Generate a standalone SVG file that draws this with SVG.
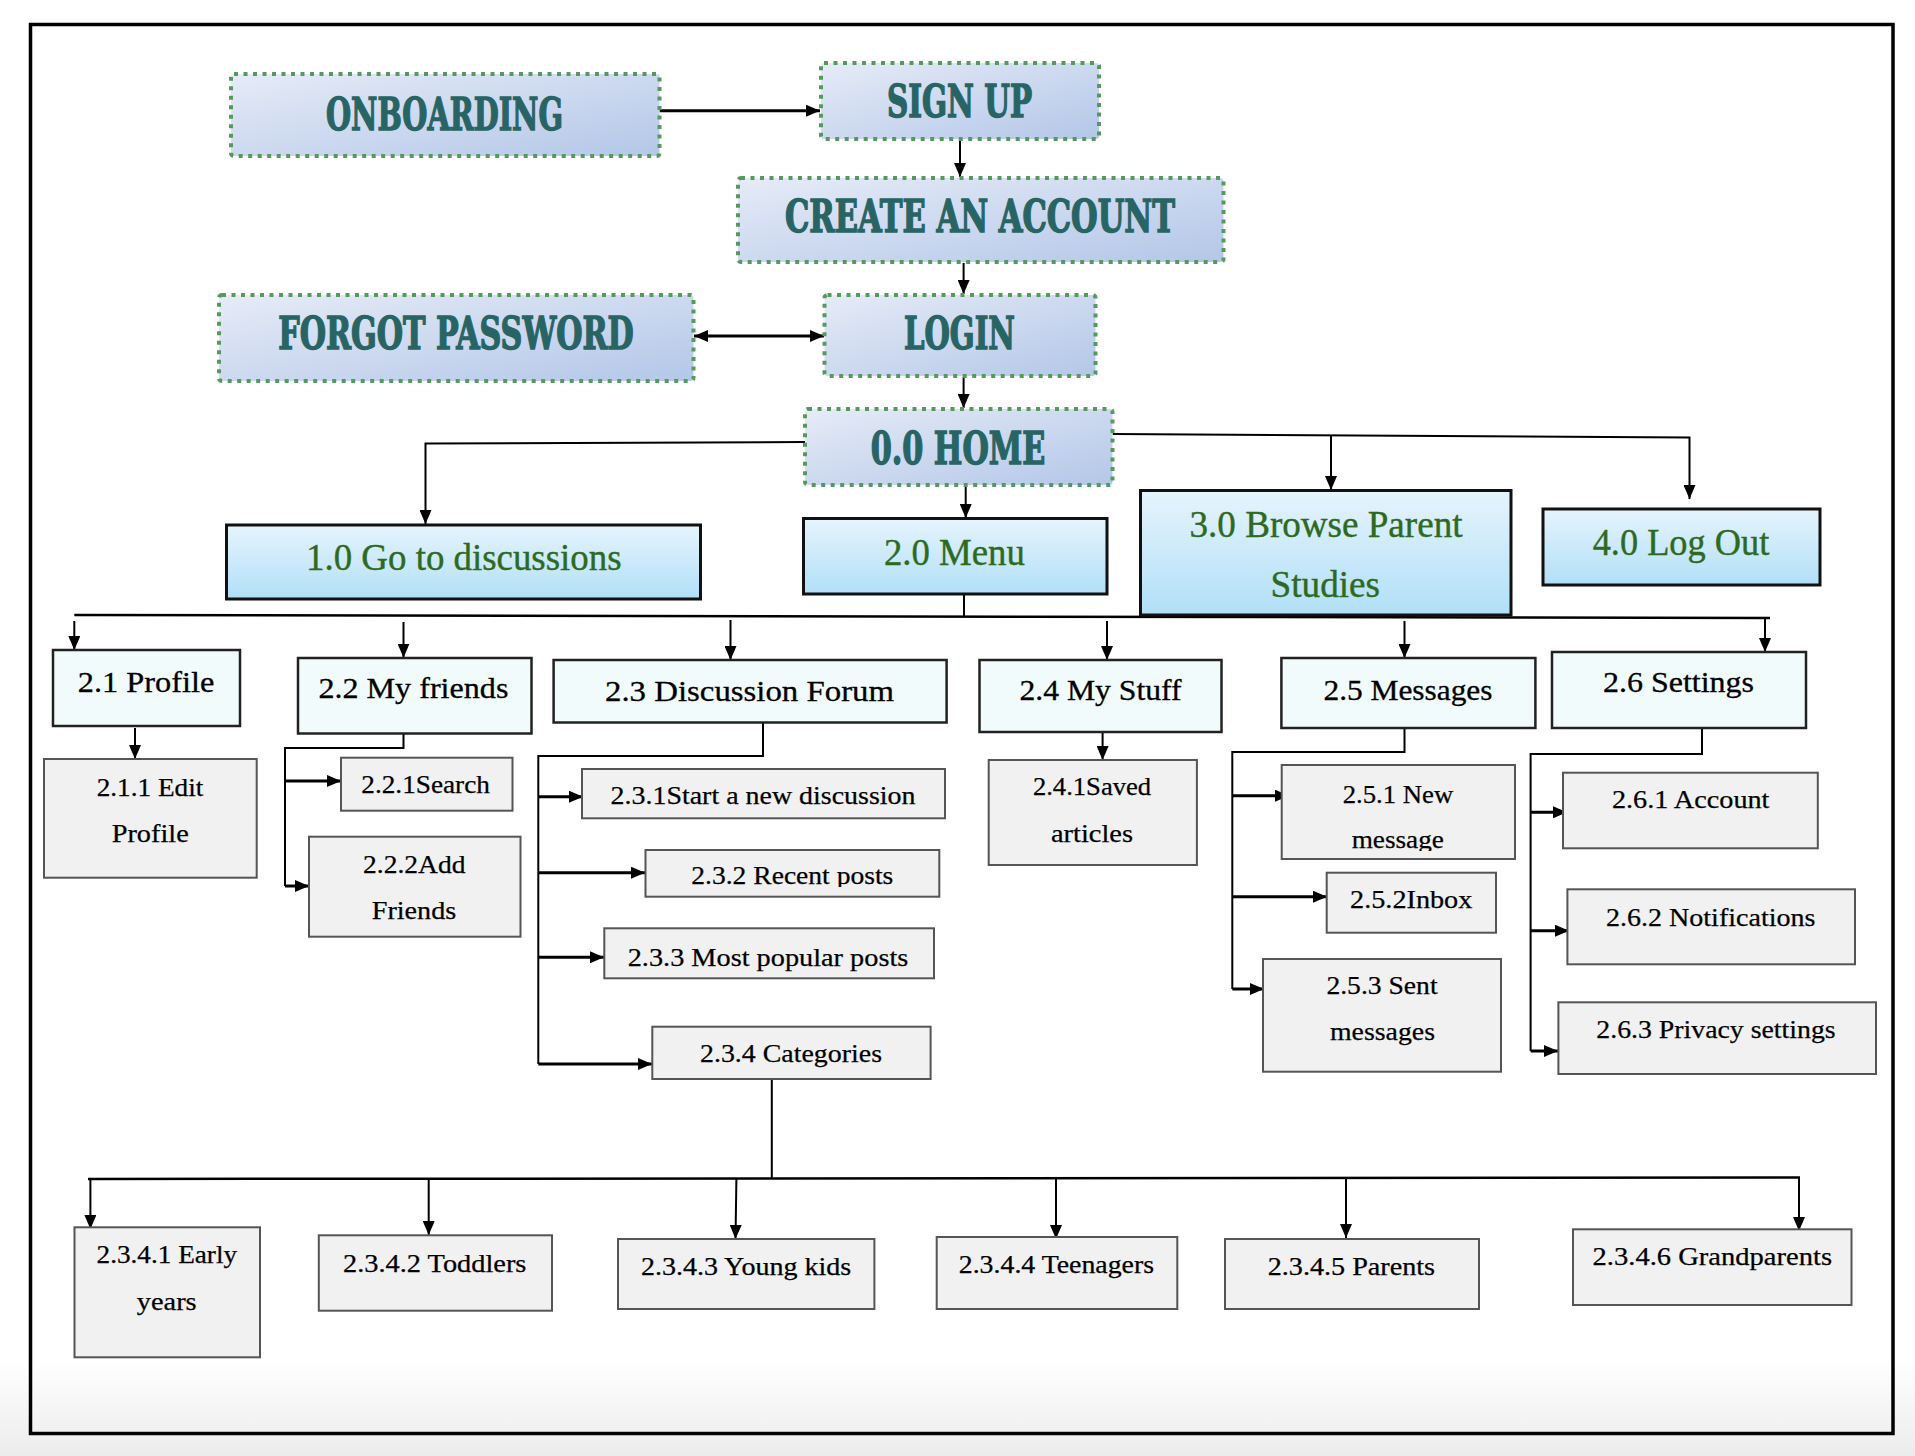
<svg xmlns="http://www.w3.org/2000/svg" width="1915" height="1456" viewBox="0 0 1915 1456">
<defs>
<linearGradient id="gTop" x1="0" y1="0" x2="1" y2="1">
<stop offset="0" stop-color="#e6ebf7"/><stop offset="1" stop-color="#b3c7e8"/>
</linearGradient>
<linearGradient id="gL1" x1="0" y1="0" x2="0" y2="1">
<stop offset="0" stop-color="#e6f4fd"/><stop offset="1" stop-color="#b1dff7"/>
</linearGradient>
<linearGradient id="gBg" x1="0" y1="0" x2="0" y2="1">
<stop offset="0" stop-color="#ffffff"/><stop offset="1" stop-color="#ececec"/>
</linearGradient>
<marker id="ah" markerUnits="userSpaceOnUse" markerWidth="14" markerHeight="12" refX="14" refY="6" orient="auto-start-reverse">
<path d="M0,0 L14,6 L0,12 z" fill="#000"/>
</marker>
<clipPath id="c232"><rect x="646" y="851" width="292" height="36"/></clipPath>
<clipPath id="c251"><rect x="1282" y="766" width="232" height="85"/></clipPath>
</defs>
<style>
.top{fill:url(#gTop);stroke:#55995f;stroke-width:4;stroke-dasharray:4 5.5}
.tt{font-family:'DejaVu Serif Condensed','DejaVu Serif',serif;font-weight:bold;font-size:45px;fill:#286464;stroke:#286464;stroke-width:1.4;text-anchor:middle}
.l1{fill:url(#gL1);stroke:#111;stroke-width:3}
.t1{font-family:'Liberation Serif',serif;font-size:38px;fill:#2d6a1f;stroke:#2d6a1f;stroke-width:0.4;text-anchor:middle}
.l2{fill:#f2fbfb;stroke:#222;stroke-width:2.5}
.t2{font-family:'Liberation Serif',serif;font-size:30px;fill:#000;stroke:#000;stroke-width:0.3;text-anchor:middle}
.l3{fill:#f1f1f1;stroke:#555;stroke-width:2}
.t3{font-family:'Liberation Serif',serif;font-size:26px;fill:#000;stroke:#000;stroke-width:0.25;text-anchor:middle}
.t4{font-family:'Liberation Serif',serif;font-size:25px;fill:#000;stroke:#000;stroke-width:0.25;text-anchor:middle}
#connectors path{fill:none;stroke:#000;stroke-width:2}
#connectors .a{marker-end:url(#ah)}
#connectors .k{stroke-width:3}
#connectors .b{stroke-width:2.5}
</style>
<rect x="0" y="0" width="1915" height="1456" fill="#fff"/>
<rect x="0" y="1360" width="1915" height="96" fill="url(#gBg)"/>
<rect x="30.5" y="24.5" width="1862.5" height="1409" fill="none" stroke="#000" stroke-width="3.5"/>

<g id="connectors">
<path class="a k" d="M659.5,110.7 H820"/>
<path class="a" d="M960,140 V177"/>
<path class="a" d="M963.6,263 V294"/>
<path class="a k" d="M694,336 H824" marker-start="url(#ah)"/>
<path class="a" d="M963.6,377 V408"/>
<path class="a" d="M805,442 L425.5,443.5 V524"/>
<path class="a" d="M965.7,485 V518"/>
<path class="a" d="M1112.6,434 L1689.5,437.5 V499"/>
<path class="a" d="M1331,436 V490"/>
<path d="M964,594 V616.5"/>
<path class="b" d="M74.3,615 L1770,618"/>
<path class="a" d="M74.3,621 V650"/>
<path class="a" d="M403.5,622 V657.7"/>
<path class="a" d="M730.5,620 V660"/>
<path class="a" d="M1107,621 V660"/>
<path class="a" d="M1404.5,621 V658"/>
<path class="a" d="M1765,618 V652"/>
<path class="a" d="M135,728 V759"/>
<path d="M403.5,733 V748 H285 V886"/>
<path class="a k" d="M285,781 H341"/>
<path class="a k" d="M285,886 H309"/>
<path d="M763,722 V756 H538.3 V1064"/>
<path class="a k" d="M538.3,796.7 H583"/>
<path class="a k" d="M538.3,872.7 H645"/>
<path class="a k" d="M538.3,957.3 H604"/>
<path class="a k" d="M538.3,1064 H652"/>
<path class="a" d="M1102.6,732 V760"/>
<path d="M1404.5,728 V752 H1232.3 V989"/>
<path class="a k" d="M1232.3,795.7 H1289"/>
<path class="a k" d="M1232.3,896.7 H1327"/>
<path class="a k" d="M1232.3,989 H1264"/>
<path d="M1702,728 V754 H1530.6 V1051"/>
<path class="a k" d="M1530.6,812.3 H1567"/>
<path class="a k" d="M1530.6,930.7 H1569"/>
<path class="a k" d="M1530.6,1051 H1558"/>
<path d="M771.8,1079 V1178"/>
<path class="b" d="M88,1179 L1800,1177.5"/>
<path class="a" d="M90.4,1180 V1229"/>
<path class="a" d="M428.7,1179 V1235"/>
<path class="a" d="M736.4,1179 L735.5,1239"/>
<path class="a" d="M1056,1178 V1239"/>
<path class="a" d="M1346,1178 V1238"/>
<path class="a" d="M1799,1178 V1231"/>
</g>

<g id="onboarding"><rect class="top" x="231" y="74" width="428.5" height="82" rx="3"/><text class="tt" x="444.5" y="130" textLength="237" lengthAdjust="spacingAndGlyphs">ONBOARDING</text></g>
<g id="signup"><rect class="top" x="821" y="63" width="278" height="76" rx="3"/><text class="tt" x="959.5" y="117" textLength="145" lengthAdjust="spacingAndGlyphs">SIGN UP</text></g>
<g id="create"><rect class="top" x="738" y="178" width="485.5" height="84" rx="3"/><text class="tt" x="980" y="232" textLength="390" lengthAdjust="spacingAndGlyphs">CREATE AN ACCOUNT</text></g>
<g id="forgot"><rect class="top" x="219" y="295" width="474.5" height="86" rx="3"/><text class="tt" x="456" y="349" textLength="355.5" lengthAdjust="spacingAndGlyphs">FORGOT PASSWORD</text></g>
<g id="login"><rect class="top" x="824.5" y="295" width="271" height="81" rx="3"/><text class="tt" x="959.5" y="349" textLength="111" lengthAdjust="spacingAndGlyphs">LOGIN</text></g>
<g id="home"><rect class="top" x="805" y="409" width="307.5" height="76" rx="3"/><text class="tt" x="958" y="464" textLength="174.5" lengthAdjust="spacingAndGlyphs">0.0 HOME</text></g>

<g id="n1-0"><rect class="l1" x="226.5" y="525" width="474" height="74"/><text class="t1" x="463.8" y="570" textLength="315.5" lengthAdjust="spacingAndGlyphs">1.0 Go to discussions</text></g>
<g id="n2-0"><rect class="l1" x="803.5" y="518.5" width="303.5" height="75.5"/><text class="t1" x="954.4" y="565" textLength="141" lengthAdjust="spacingAndGlyphs">2.0 Menu</text></g>
<g id="n3-0"><rect class="l1" x="1140.5" y="490.5" width="370.5" height="124.5"/><text class="t1" x="1326" y="536.7" textLength="273" lengthAdjust="spacingAndGlyphs">3.0 Browse Parent</text><text class="t1" x="1325.3" y="596.7" textLength="109.5" lengthAdjust="spacingAndGlyphs">Studies</text></g>
<g id="n4-0"><rect class="l1" x="1543" y="509" width="277" height="76"/><text class="t1" x="1681" y="555" textLength="176.6" lengthAdjust="spacingAndGlyphs">4.0 Log Out</text></g>

<g id="n2-1"><rect class="l2" x="53" y="650" width="187" height="76"/><text class="t2" x="146" y="691.7" textLength="136.5" lengthAdjust="spacingAndGlyphs">2.1 Profile</text></g>
<g id="n2-2"><rect class="l2" x="298" y="658" width="233.5" height="75.5"/><text class="t2" x="413.4" y="698.3" textLength="190" lengthAdjust="spacingAndGlyphs">2.2 My friends</text></g>
<g id="n2-3"><rect class="l2" x="553.6" y="660" width="393" height="62.5"/><text class="t2" x="749.5" y="700.7" textLength="289" lengthAdjust="spacingAndGlyphs">2.3 Discussion Forum</text></g>
<g id="n2-4"><rect class="l2" x="979.5" y="660" width="242" height="72"/><text class="t2" x="1100.5" y="700" textLength="162" lengthAdjust="spacingAndGlyphs">2.4 My Stuff</text></g>
<g id="n2-5"><rect class="l2" x="1281.4" y="658" width="254" height="70"/><text class="t2" x="1408" y="700" textLength="169" lengthAdjust="spacingAndGlyphs">2.5 Messages</text></g>
<g id="n2-6"><rect class="l2" x="1552" y="652" width="254" height="76"/><text class="t2" x="1678.5" y="691.7" textLength="151" lengthAdjust="spacingAndGlyphs">2.6 Settings</text></g>

<g id="n2-1-1"><rect class="l3" x="44" y="759" width="212.7" height="118.7"/><text class="t3" x="150" y="796" textLength="106.6" lengthAdjust="spacingAndGlyphs">2.1.1 Edit</text><text class="t3" x="150.2" y="842.3" textLength="77" lengthAdjust="spacingAndGlyphs">Profile</text></g>
<g id="n2-2-1"><rect class="l3" x="341" y="757.7" width="171.5" height="53"/><text class="t3" x="425.6" y="793.3" textLength="128.6" lengthAdjust="spacingAndGlyphs">2.2.1Search</text></g>
<g id="n2-2-2"><rect class="l3" x="309" y="836.7" width="211.5" height="100"/><text class="t3" x="414.2" y="872.7" textLength="102.4" lengthAdjust="spacingAndGlyphs">2.2.2Add</text><text class="t3" x="414" y="919.3" textLength="84.5" lengthAdjust="spacingAndGlyphs">Friends</text></g>
<g id="n2-3-1"><rect class="l3" x="582" y="769" width="363" height="49.3"/><text class="t3" x="763" y="804" textLength="305" lengthAdjust="spacingAndGlyphs">2.3.1Start a new discussion</text></g>
<g id="n2-3-2"><rect class="l3" x="645.5" y="850" width="293.8" height="46.7"/><text class="t3" x="792.3" y="884.3" textLength="202" lengthAdjust="spacingAndGlyphs" clip-path="url(#c232)">2.3.2 Recent posts</text></g>
<g id="n2-3-3"><rect class="l3" x="604.3" y="928.3" width="329.7" height="50"/><text class="t3" x="768" y="966" textLength="280.6" lengthAdjust="spacingAndGlyphs">2.3.3 Most popular posts</text></g>
<g id="n2-3-4"><rect class="l3" x="652.3" y="1026.7" width="278.3" height="52.3"/><text class="t3" x="791" y="1061.7" textLength="182" lengthAdjust="spacingAndGlyphs">2.3.4 Categories</text></g>
<g id="n2-4-1"><rect class="l3" x="988.7" y="760" width="208.2" height="105"/><text class="t3" x="1092" y="795" textLength="118.2" lengthAdjust="spacingAndGlyphs">2.4.1Saved</text><text class="t3" x="1092" y="841.7" textLength="82" lengthAdjust="spacingAndGlyphs">articles</text></g>
<g id="n2-5-1"><rect class="l3" x="1281.7" y="765" width="233.3" height="94"/><text class="t3" x="1398" y="802.7" textLength="110.6" lengthAdjust="spacingAndGlyphs">2.5.1 New</text><text class="t3" x="1397.8" y="848.3" textLength="92.3" lengthAdjust="spacingAndGlyphs" clip-path="url(#c251)">message</text></g>
<g id="n2-5-2"><rect class="l3" x="1326.7" y="872.7" width="169.3" height="60"/><text class="t3" x="1411.2" y="908.3" textLength="122.3" lengthAdjust="spacingAndGlyphs">2.5.2Inbox</text></g>
<g id="n2-5-3"><rect class="l3" x="1263" y="959" width="238" height="112.7"/><text class="t3" x="1382" y="994" textLength="111.2" lengthAdjust="spacingAndGlyphs">2.5.3 Sent</text><text class="t3" x="1382.5" y="1040" textLength="105" lengthAdjust="spacingAndGlyphs">messages</text></g>
<g id="n2-6-1"><rect class="l3" x="1563" y="772.7" width="254.8" height="75.6"/><text class="t3" x="1690.7" y="808.3" textLength="157.5" lengthAdjust="spacingAndGlyphs">2.6.1 Account</text></g>
<g id="n2-6-2"><rect class="l3" x="1567.4" y="889.3" width="287.6" height="75"/><text class="t3" x="1710.7" y="925.7" textLength="209.4" lengthAdjust="spacingAndGlyphs">2.6.2 Notifications</text></g>
<g id="n2-6-3"><rect class="l3" x="1558.4" y="1002.3" width="317.6" height="71.7"/><text class="t3" x="1716" y="1038.3" textLength="239.3" lengthAdjust="spacingAndGlyphs">2.6.3 Privacy settings</text></g>

<g id="n2-3-4-1"><rect class="l3" x="74.5" y="1227.3" width="185.5" height="130"/><text class="t4" x="166.8" y="1263" textLength="140.5" lengthAdjust="spacingAndGlyphs">2.3.4.1 Early</text><text class="t4" x="166.7" y="1310" textLength="59.8" lengthAdjust="spacingAndGlyphs">years</text></g>
<g id="n2-3-4-2"><rect class="l3" x="318.8" y="1235.3" width="233.2" height="75.4"/><text class="t4" x="434.7" y="1271.7" textLength="183.4" lengthAdjust="spacingAndGlyphs">2.3.4.2 Toddlers</text></g>
<g id="n2-3-4-3"><rect class="l3" x="618" y="1239" width="256.4" height="70"/><text class="t4" x="746.1" y="1275" textLength="210.2" lengthAdjust="spacingAndGlyphs">2.3.4.3 Young kids</text></g>
<g id="n2-3-4-4"><rect class="l3" x="936.7" y="1237" width="240.6" height="72"/><text class="t4" x="1056.4" y="1273.3" textLength="195.3" lengthAdjust="spacingAndGlyphs">2.3.4.4 Teenagers</text></g>
<g id="n2-3-4-5"><rect class="l3" x="1225" y="1239" width="254" height="70"/><text class="t4" x="1351.4" y="1275" textLength="167.3" lengthAdjust="spacingAndGlyphs">2.3.4.5 Parents</text></g>
<g id="n2-3-4-6"><rect class="l3" x="1573" y="1229.3" width="278.5" height="75.7"/><text class="t4" x="1712.3" y="1265" textLength="239.4" lengthAdjust="spacingAndGlyphs">2.3.4.6 Grandparents</text></g>
</svg>
